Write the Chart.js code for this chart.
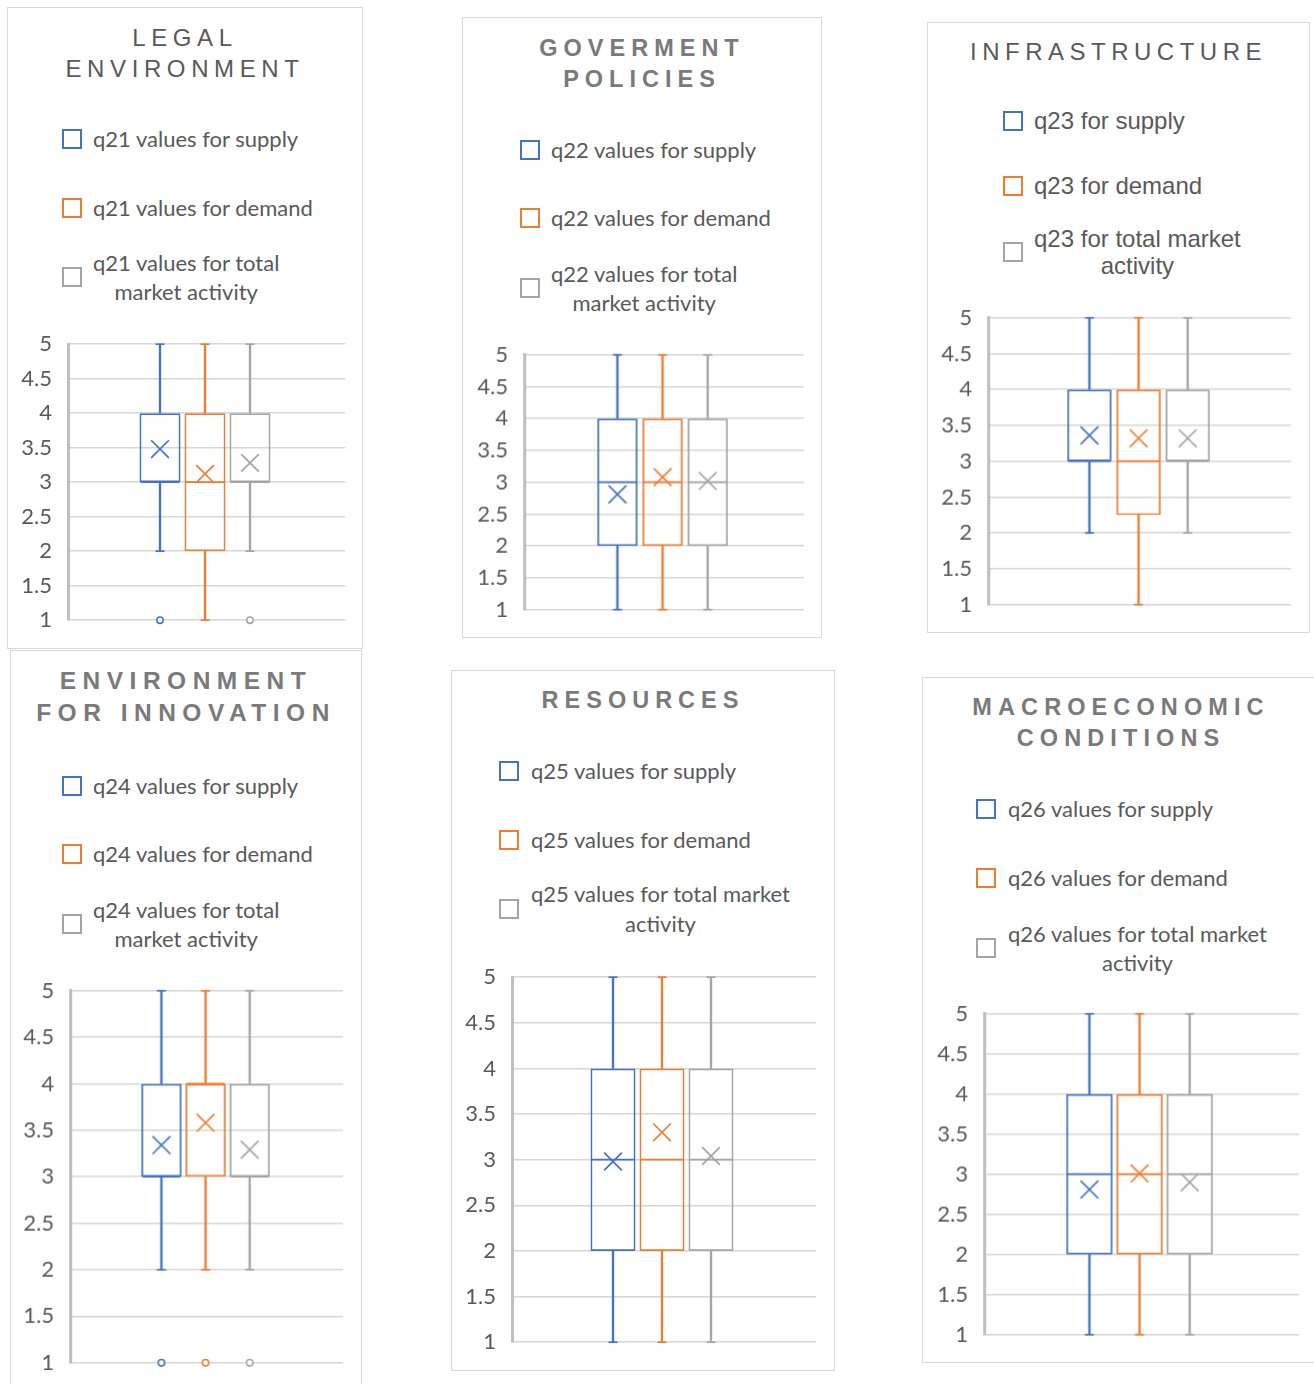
<!DOCTYPE html>
<html><head><meta charset="utf-8">
<script src="https://cdn.jsdelivr.net/npm/chart.js@4.4.1/dist/chart.umd.min.js"></script>
<style>
html,body{margin:0;padding:0;background:#fff}
body{width:1314px;height:1384px;position:relative;overflow:hidden;font-family:Lato,sans-serif;color:#595959}
.panel{position:absolute;border:1px solid #d9d9d9;box-sizing:border-box;background:#fff}
.title{position:absolute;text-align:center;white-space:nowrap;font-family:"Liberation Sans",Arial,sans-serif;box-sizing:border-box}
.sq{position:absolute;width:20px;height:20px;box-sizing:border-box;border:2px solid}
.lt{position:absolute;white-space:nowrap;text-align:center;color:#595959}
.cw{position:absolute}
</style></head><body>
<script>
// ---------- DATA ----------
const categories = ['supply', 'demand', 'total market activity'];
const seriesColors = ['#4472c4', '#ed7d31', '#a5a5a5'];
const yTickValues = [1, 1.5, 2, 2.5, 3, 3.5, 4, 4.5, 5];

const q21Min = [2, 1, 2], q21Q1 = [3, 2, 3], q21Median = [3, 3, 3], q21Q3 = [4, 4, 4], q21Max = [5, 5, 5];
const q21Mean = [3.48, 3.12, 3.28];
const q21Outliers = [[1], [], [1]];
const q21Labels = ['q21 values for supply', 'q21 values for demand', ['q21 values for total', 'market activity']];

const q22Min = [1, 1, 1], q22Q1 = [2, 2, 2], q22Median = [3, 3, 3], q22Q3 = [4, 4, 4], q22Max = [5, 5, 5];
const q22Mean = [2.81, 3.08, 3.02];
const q22Outliers = [[], [], []];
const q22Labels = ['q22 values for supply', 'q22 values for demand', ['q22 values for total', 'market activity']];

const q23Min = [2, 1, 2], q23Q1 = [3, 2.25, 3], q23Median = [3, 3, 3], q23Q3 = [4, 4, 4], q23Max = [5, 5, 5];
const q23Mean = [3.36, 3.32, 3.32];
const q23Outliers = [[], [], []];
const q23Labels = ['q23 for supply', 'q23 for demand', ['q23 for total market', 'activity']];

const q24Min = [2, 2, 2], q24Q1 = [3, 3, 3], q24Median = [3, 4, 3], q24Q3 = [4, 4, 4], q24Max = [5, 5, 5];
const q24Mean = [3.34, 3.58, 3.29];
const q24Outliers = [[1], [1], [1]];
const q24Labels = ['q24 values for supply', 'q24 values for demand', ['q24 values for total', 'market activity']];

const q25Min = [1, 1, 1], q25Q1 = [2, 2, 2], q25Median = [3, 3, 3], q25Q3 = [4, 4, 4], q25Max = [5, 5, 5];
const q25Mean = [2.98, 3.30, 3.04];
const q25Outliers = [[], [], []];
const q25Labels = ['q25 values for supply', 'q25 values for demand', ['q25 values for total market', 'activity']];

const q26Min = [1, 1, 1], q26Q1 = [2, 2, 2], q26Median = [3, 3, 3], q26Q3 = [4, 4, 4], q26Max = [5, 5, 5];
const q26Mean = [2.81, 3.01, 2.90];
const q26Outliers = [[], [], []];
const q26Labels = ['q26 values for supply', 'q26 values for demand', ['q26 values for total market', 'activity']];

// ---------- LAYOUT ----------
const panels = [
  {id:'q21', title:['LEGAL','ENVIRONMENT'], bold:false, tSize:24, tSp:5.6, box:[7,7,363,649], titleY:37, titleLH:31,
   sqX:62, txtX:93, legY:[139,208,[262,291]], legFont:'Lato', legSize:22, axisX:68, y5:344, y1:620, right:345, centers:[160,205,250], boxW:41,
   stats:[q21Min,q21Q1,q21Median,q21Q3,q21Max,q21Mean,q21Outliers], labels:q21Labels},
  {id:'q22', title:['GOVERMENT','POLICIES'], bold:true, tSize:23.5, tSp:6, box:[462,17,822,638], titleY:48, titleLH:31,
   sqX:520, txtX:551, legY:[150,218,[273,302]], legFont:'Lato', legSize:22, axisX:524, y5:355, y1:609, right:803, centers:[617,662,707], boxW:40,
   stats:[q22Min,q22Q1,q22Median,q22Q3,q22Max,q22Mean,q22Outliers], labels:q22Labels},
  {id:'q23', title:['INFRASTRUCTURE'], bold:false, tSize:24, tSp:5.5, box:[927,22,1310,633], titleY:51, titleLH:31,
   sqX:1003, txtX:1034, legY:[121,186,[238,265]], legFont:'Liberation Sans', legSize:24, axisX:988, y5:318, y1:604, right:1290, centers:[1089,1138,1187], boxW:44,
   stats:[q23Min,q23Q1,q23Median,q23Q3,q23Max,q23Mean,q23Outliers], labels:q23Labels},
  {id:'q24', title:['ENVIRONMENT','FOR INNOVATION'], bold:true, tSize:24.5, tSp:6.5, box:[10,650,362,1395], titleY:681, titleLH:32,
   sqX:62, txtX:93, legY:[786,854,[909,938]], legFont:'Lato', legSize:22, axisX:70, y5:991, y1:1362, right:342, centers:[161,205,249], boxW:40,
   stats:[q24Min,q24Q1,q24Median,q24Q3,q24Max,q24Mean,q24Outliers], labels:q24Labels},
  {id:'q25', title:['RESOURCES'], bold:true, tSize:23.5, tSp:6, box:[451,670,835,1371], titleY:700, titleLH:31,
   sqX:499, txtX:531, legY:[771,840,[894,924]], legFont:'Lato', legSize:22, axisX:512, y5:977, y1:1342, right:816, centers:[613,662,711], boxW:45,
   stats:[q25Min,q25Q1,q25Median,q25Q3,q25Max,q25Mean,q25Outliers], labels:q25Labels},
  {id:'q26', title:['MACROECONOMIC','CONDITIONS'], bold:true, tSize:23.5, tSp:6.1, box:[922,677,1320,1363], titleY:707, titleLH:31,
   sqX:976, txtX:1008, legY:[809,878,[933,962]], legFont:'Lato', legSize:22, axisX:984, y5:1014, y1:1334, right:1298, centers:[1089,1139,1189], boxW:46,
   stats:[q26Min,q26Q1,q26Median,q26Q3,q26Max,q26Mean,q26Outliers], labels:q26Labels}
];

Chart.defaults.font.family = 'Lato';

function el(cls, css, html) {
  const d = document.createElement('div');
  d.className = cls;
  Object.assign(d.style, css);
  if (html !== undefined) d.innerHTML = html;
  document.body.appendChild(d);
  return d;
}

function buildPanel(p) {
  const [L, T, R, B] = p.box;
  el('panel', {left: L + 'px', top: T + 'px', width: (R - L) + 'px', height: (B - T) + 'px'});

  // title
  el('title', {
    left: L + 'px', width: (R - L) + 'px', top: (p.titleY - p.titleLH / 2) + 'px',
    lineHeight: p.titleLH + 'px', fontSize: p.tSize + 'px', fontWeight: p.bold ? 'bold' : 'normal',
    letterSpacing: p.tSp + 'px', color: p.bold ? '#7a7a7a' : '#595959'
  }, p.title.join('<br>'));

  // legend
  p.labels.forEach((lab, i) => {
    const yy = p.legY[i];
    let sqY, top, lh, txt;
    if (Array.isArray(lab)) {
      lh = yy[1] - yy[0];
      sqY = (yy[0] + yy[1]) / 2;
      top = yy[0] - lh / 2;
      txt = lab.join('<br>');
    } else {
      lh = 30; sqY = yy; top = yy - lh / 2; txt = lab;
    }
    el('sq', {left: p.sqX + 'px', top: (sqY - 10) + 'px', borderColor: seriesColors[i]});
    el('lt', {left: p.txtX + 'px', top: top + 'px', lineHeight: lh + 'px', fontSize: p.legSize + 'px',
      fontFamily: p.legFont === 'Lato' ? 'Lato, sans-serif' : '"Liberation Sans", Arial, sans-serif'}, txt);
  });

  // chart
  const AW = 60, PT = 14, PB = 14, PR = 4;
  let wL = p.axisX - AW, wT = p.y5 - PT, wW = p.right - p.axisX + AW + PR, wH = p.y1 - p.y5 + PT + PB;
  const wrap = el('cw', {left: wL + 'px', top: wT + 'px', width: wW + 'px', height: wH + 'px'});
  const cv = document.createElement('canvas');
  wrap.appendChild(cv);

  const spacing = (p.centers[2] - p.centers[0]) / 2;
  const xmin = 1 - (p.centers[0] - p.axisX) / spacing;
  const xmax = 3 + (p.right - p.centers[2]) / spacing;
  const boxRatio = p.boxW / spacing;

  const [mn, q1, md, q3, mx, mean, outl] = p.stats;
  const idx = categories.map((c, i) => i + 1);

  const outPts = [], outCols = [];
  outl.forEach((arr, i) => arr.forEach(v => { outPts.push({x: idx[i], y: v}); outCols.push(seriesColors[i]); }));

  const capPts = [], capCols = [];
  idx.forEach((x, i) => {
    capPts.push({x, y: mn[i]}); capCols.push(seriesColors[i]);
    capPts.push({x, y: mx[i]}); capCols.push(seriesColors[i]);
  });

  const LW = 1.7;
  const datasets = [
    {type: 'bar', label: 'whiskerLow', data: idx.map((x, i) => ({x, y: [mn[i], q1[i]]})),
      backgroundColor: seriesColors, borderWidth: 0, maxBarThickness: LW, categoryPercentage: 1, barPercentage: 1, grouped: false, order: 5, clip: false},
    {type: 'bar', label: 'whiskerHigh', data: idx.map((x, i) => ({x, y: [q3[i], mx[i]]})),
      backgroundColor: seriesColors, borderWidth: 0, maxBarThickness: LW, categoryPercentage: 1, barPercentage: 1, grouped: false, order: 5, clip: false},
    {type: 'bar', label: 'box', data: idx.map((x, i) => ({x, y: [q1[i], q3[i]]})),
      backgroundColor: 'rgba(0,0,0,0)', borderColor: seriesColors, borderWidth: LW, borderSkipped: false,
      categoryPercentage: 1, barPercentage: boxRatio, grouped: false, order: 4, clip: false},
    {type: 'scatter', label: 'median', data: idx.map((x, i) => ({x, y: md[i]})),
      pointStyle: 'line', pointRadius: p.boxW / 2 - 1, pointBorderColor: seriesColors, pointBorderWidth: LW, order: 3, clip: false},
    {type: 'scatter', label: 'caps', data: capPts,
      pointStyle: 'line', pointRadius: 4.5, pointBorderColor: capCols, pointBorderWidth: LW, order: 3, clip: false},
    {type: 'scatter', label: 'mean', data: idx.map((x, i) => ({x, y: mean[i]})),
      pointStyle: 'crossRot', pointRadius: 12.5, pointBorderColor: seriesColors, pointBorderWidth: LW,
      pointBackgroundColor: 'rgba(0,0,0,0)', order: 2, clip: false},
    {type: 'scatter', label: 'outliers', data: outPts,
      pointStyle: 'circle', pointRadius: 3.2, pointBorderColor: outCols, pointBorderWidth: 1.5,
      pointBackgroundColor: '#ffffff', order: 1, clip: false}
  ];

  const chart = new Chart(cv, {
    type: 'bar',
    data: {datasets},
    options: {
      responsive: true, maintainAspectRatio: false, animation: false, events: [],
      layout: {padding: {left: 0, right: PR, top: PT, bottom: PB}},
      plugins: {legend: {display: false}, tooltip: {enabled: false}, title: {display: false}},
      scales: {
        x: {type: 'linear', min: xmin, max: xmax, display: false, offset: false,
          afterBuildTicks: s => { s.ticks = [{value: s.min}, {value: s.max}]; },
          afterFit: s => { s.paddingLeft = 0; s.paddingRight = 0; s.paddingTop = 0; s.paddingBottom = 0; }},
        y: {type: 'linear', min: 1, max: 5, beginAtZero: false,
          afterBuildTicks: s => { s.ticks = yTickValues.map(v => ({value: v})); },
          afterFit: s => { s.width = AW; s.paddingTop = 0; s.paddingBottom = 0; s.paddingLeft = 0; s.paddingRight = 0; },
          ticks: {autoSkip: false, font: {family: 'Lato', size: 22}, color: '#595959', padding: 16,
            callback: v => String(v)},
          grid: {color: '#d6d6d6', lineWidth: 1.6, drawTicks: false},
          border: {display: true, color: '#bfbfbf', width: 3}}
      }
    }
  });

  // align the chart area exactly with the intended plot rectangle
  for (let k = 0; k < 2; k++) {
    const ca = chart.chartArea;
    const nL = p.axisX - ca.left, nT = p.y5 - ca.top;
    const nW = wW + (p.right - p.axisX) - (ca.right - ca.left);
    const nH = wH + (p.y1 - p.y5) - (ca.bottom - ca.top);
    if (Math.abs(nL - wL) < 0.5 && Math.abs(nT - wT) < 0.5 && Math.abs(nW - wW) < 0.5 && Math.abs(nH - wH) < 0.5) break;
    wL = nL; wT = nT; wW = nW; wH = nH;
    Object.assign(wrap.style, {left: wL + 'px', top: wT + 'px', width: wW + 'px', height: wH + 'px'});
    chart.resize();
  }
}

panels.forEach(buildPanel);
</script>
</body></html>
